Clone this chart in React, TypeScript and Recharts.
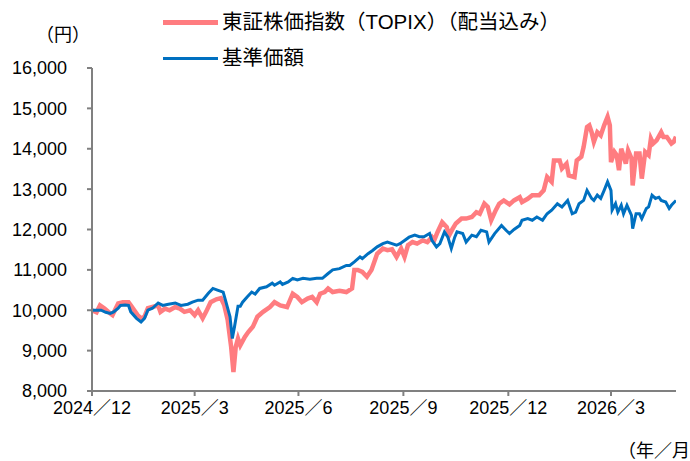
import { LineChart, Line, XAxis, YAxis } from "recharts";

// x = days since 2024/12/1
const topixDays = [
  0, 4, 7, 11, 16, 18, 23, 27, 32, 34,
  38, 40, 43, 46, 49, 53, 58, 60, 64, 68,
  73, 77, 81, 86, 90, 93, 97, 100, 104, 109,
  113, 116, 119, 122, 124, 126, 128, 130, 134, 137,
  141, 145, 150, 156, 160, 165, 171, 176, 180, 184,
  189, 193, 197, 200, 204, 207, 211, 217, 223, 228,
  230, 233, 237, 241, 245, 248, 250, 255, 259, 263,
  267, 271, 274, 277, 281, 285, 290, 294, 298, 300,
  303, 307, 311, 313, 316, 319, 324, 328, 333, 337,
  340, 344, 347, 350, 354, 357, 361, 366, 370, 375,
  377, 382, 386, 392, 396, 399, 403, 405, 410, 412,
  416, 418, 423, 425, 429, 431, 434, 436, 438, 440,
  443, 446, 449, 452, 454, 455, 458, 460, 462, 464,
  468, 470, 473, 474, 477, 480, 482, 485, 488, 490,
  492, 495, 499, 501, 504, 508, 510, 512,
];
const topixValues = [
  10000, 9950, 10120, 10040, 9920, 9880, 10170, 10200, 10200, 10120,
  9960, 9880, 9800, 9840, 10050, 10080, 10120, 9960, 10040, 10000,
  10080, 10040, 9960, 10000, 9880, 10000, 9800, 9960, 10200, 10270,
  10300, 10120, 9750, 9090, 8470, 9090, 9300, 9130, 9340, 9460,
  9590, 9840, 9960, 10080, 10200, 10120, 10080, 10410, 10330, 10200,
  10290, 10330, 10200, 10410, 10450, 10540, 10450, 10480, 10450, 10540,
  11000, 11000, 10950, 10830, 11000, 11240, 11400, 11530, 11490, 11510,
  11320, 11530, 11320, 11610, 11690, 11650, 11730, 11690, 11810, 11730,
  11940, 12180, 12060, 11850, 12010, 12150, 12270, 12270, 12310, 12430,
  12390, 12640, 12560, 12230, 12480, 12640, 12720, 12620, 12720, 12800,
  12680, 12760, 12850, 12850, 12970, 13300, 13180, 13710, 13710, 13510,
  13630, 13340, 13300, 13710, 13800, 14040, 14540, 14580, 14410, 14170,
  14410, 14330, 14580, 14790, 14580, 13670, 13920, 13840, 13470, 14000,
  13630, 13960, 13760, 13090, 13880, 13880, 13260, 13920, 13840, 14250,
  14130, 14210, 14410, 14290, 14290, 14130, 14170, 14300,
];

const navDays = [
  0, 8, 12, 16, 19, 23, 25, 29, 32, 34,
  39, 43, 46, 49, 53, 58, 62, 67, 73, 78,
  84, 88, 93, 97, 102, 106, 110, 115, 117, 121,
  123, 125, 128, 130, 132, 136, 140, 143, 147, 153,
  158, 160, 165, 167, 172, 176, 180, 185, 191, 197,
  202, 207, 211, 217, 223, 226, 230, 235, 237, 242,
  246, 250, 255, 259, 263, 267, 270, 274, 278, 283,
  287, 291, 296, 298, 302, 305, 309, 312, 315, 318,
  320, 325, 328, 333, 337, 341, 346, 348, 353, 359,
  363, 366, 370, 375, 377, 382, 386, 390, 395, 399,
  403, 408, 412, 417, 421, 424, 427, 431, 434, 438,
  440, 443, 446, 449, 452, 455, 456, 459, 461, 464,
  466, 469, 473, 474, 477, 480, 482, 486, 488, 491,
  494, 497, 499, 503, 506, 508, 512,
];
const navValues = [
  10000, 10000, 9950, 9920, 9960, 10050, 10120, 10130, 10120, 9960,
  9800, 9710, 9800, 10000, 10050, 10180, 10120, 10150, 10180, 10120,
  10150, 10200, 10250, 10250, 10420, 10540, 10500, 10450, 10250, 9840,
  9300, 9600, 10100, 10100, 10200, 10330, 10450, 10400, 10540, 10580,
  10670, 10620, 10700, 10640, 10700, 10790, 10750, 10790, 10770, 10790,
  10790, 10910, 11000, 11030, 11110, 11110, 11200, 11320, 11280, 11400,
  11480, 11570, 11650, 11690, 11650, 11610, 11650, 11730, 11810, 11860,
  11820, 11820, 11900, 11730, 11570, 11650, 11940, 11810, 11530, 11810,
  11940, 11900, 11690, 11860, 11820, 11980, 11940, 11690, 11900, 12100,
  11980, 11900, 12000, 12100, 12230, 12270, 12230, 12310, 12230, 12390,
  12480, 12640, 12560, 12720, 12390, 12430, 12640, 12720, 12970, 12770,
  12720, 12850, 12770, 12970, 13180, 12970, 12480, 12640, 12430, 12600,
  12390, 12600, 12350, 12020, 12390, 12390, 12270, 12520, 12560, 12850,
  12770, 12800, 12720, 12680, 12520, 12600, 12720,
];

const xTickDays = [0, 90, 181, 273, 365, 455];
const xTickLabels = ["2024／12", "2025／3", "2025／6", "2025／9", "2025／12", "2026／3"];
const yTicks = [8000, 9000, 10000, 11000, 12000, 13000, 14000, 15000, 16000];

const topixData = topixDays.map((d, i) => ({ d, v: topixValues[i] }));
const navData = navDays.map((d, i) => ({ d, v: navValues[i] }));

const FONT = '"Liberation Sans", "Noto Sans CJK JP", sans-serif';
const PINK = "#FF7C80";
const BLUE = "#0070C0";

export default function App() {
  return (
    <div style={{ position: "absolute", left: 0, top: 0, width: 690, height: 461, overflow: "hidden", background: "#fff", fontFamily: FONT, color: "#000" }}>
      <div style={{ position: "absolute", left: 36, top: 20, fontSize: 18 }}>（円）</div>
      <div style={{ position: "absolute", left: 163, top: 20, width: 55, height: 5, background: PINK }} />
      <div style={{ position: "absolute", left: 222, top: 8, fontSize: 20.5, lineHeight: "28px", whiteSpace: "nowrap" }}>東証株価指数（TOPIX）（配当込み）</div>
      <div style={{ position: "absolute", left: 163, top: 57, width: 55, height: 3, background: BLUE }} />
      <div style={{ position: "absolute", left: 222, top: 44, fontSize: 20.5, lineHeight: "28px", whiteSpace: "nowrap" }}>基準価額</div>
      <div style={{ position: "absolute", left: 618, top: 436, fontSize: 18, whiteSpace: "nowrap" }}>（年／月）</div>

      <LineChart width={690} height={461} margin={{ top: 68, right: 14, bottom: 40, left: 0 }}>
        <XAxis
          type="number"
          dataKey="d"
          domain={[0, 512]}
          ticks={xTickDays}
          tickFormatter={(d: number) => xTickLabels[xTickDays.indexOf(d)]}
          tick={{ fontSize: 18, fill: "#000", fontFamily: FONT }}
          tickSize={5}
          tickMargin={5}
          height={30}
          stroke="#808080"
          strokeWidth={2}
          allowDataOverflow
        />
        <YAxis
          type="number"
          domain={[8000, 16000]}
          ticks={yTicks}
          tickFormatter={(v: number) => v.toLocaleString("en-US")}
          tick={{ fontSize: 18, fill: "#000", fontFamily: FONT }}
          tickSize={5}
          tickMargin={20}
          width={92}
          stroke="#808080"
          strokeWidth={2}
        />
        <Line data={topixData} dataKey="v" type="linear" stroke={PINK} strokeWidth={4.5} dot={false} isAnimationActive={false} />
        <Line data={navData} dataKey="v" type="linear" stroke={BLUE} strokeWidth={3} dot={false} isAnimationActive={false} />
      </LineChart>
    </div>
  );
}
